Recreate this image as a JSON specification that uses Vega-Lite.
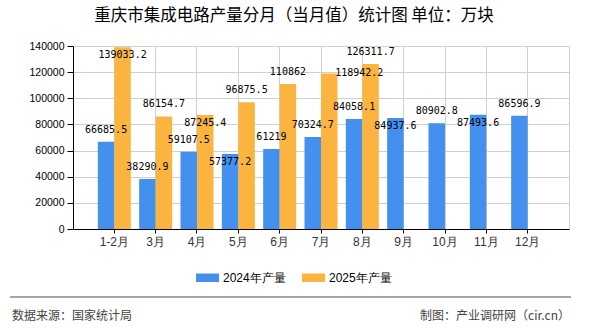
{
  "$schema": "https://vega.github.io/schema/vega-lite/v6.json",
  "width": 496,
  "height": 183,
  "autosize": {"type": "none"},
  "padding": {"left": 73, "top": 46, "right": 21, "bottom": 101},
  "background": "white",
  "title": {
    "text": "重庆市集成电路产量分月（当月值）统计图  单位：万块",
    "font": "Noto Sans CJK SC",
    "fontSize": 16.5,
    "fontWeight": "normal",
    "color": "#000000",
    "anchor": "middle",
    "dx": -27,
    "offset": 17
  },
  "config": {
    "view": {"stroke": "#d0d0d0", "strokeWidth": 1},
    "font": "Liberation Sans"
  },
  "layer": [
    {
      "data": {
        "values": [
          {"month": "1-2月", "year": "2024年产量", "value": 66685.5},
          {"month": "3月", "year": "2024年产量", "value": 38290.9},
          {"month": "4月", "year": "2024年产量", "value": 59107.5},
          {"month": "5月", "year": "2024年产量", "value": 57377.2},
          {"month": "6月", "year": "2024年产量", "value": 61219},
          {"month": "7月", "year": "2024年产量", "value": 70324.7},
          {"month": "8月", "year": "2024年产量", "value": 84058.1},
          {"month": "9月", "year": "2024年产量", "value": 84937.6},
          {"month": "10月", "year": "2024年产量", "value": 80902.8},
          {"month": "11月", "year": "2024年产量", "value": 87493.6},
          {"month": "12月", "year": "2024年产量", "value": 86596.9},
          {"month": "1-2月", "year": "2025年产量", "value": 139033.2},
          {"month": "3月", "year": "2025年产量", "value": 86154.7},
          {"month": "4月", "year": "2025年产量", "value": 87245.4},
          {"month": "5月", "year": "2025年产量", "value": 96875.5},
          {"month": "6月", "year": "2025年产量", "value": 110862},
          {"month": "7月", "year": "2025年产量", "value": 118942.2},
          {"month": "8月", "year": "2025年产量", "value": 126311.7}
        ]
      },
      "encoding": {
        "x": {
          "field": "month",
          "type": "nominal",
          "sort": null,
          "scale": {"paddingInner": 0.2016, "paddingOuter": 0.6008},
          "axis": {
            "title": null,
            "bandPosition": 0.5,
            "grid": true,
            "gridColor": "#d0d0d0",
            "domainColor": "#000000",
            "tickColor": "#000000",
            "tickSize": 4,
            "labelAngle": 0,
            "labelFontSize": 12,
            "labelColor": "#333333",
            "labelPadding": 3,
            "labelFont": "Liberation Sans"
          }
        },
        "xOffset": {"field": "year", "type": "nominal", "sort": ["2024年产量", "2025年产量"], "scale": {"paddingInner": 0, "paddingOuter": 0}},
        "y": {
          "field": "value",
          "type": "quantitative",
          "scale": {"domain": [0, 140000], "nice": false},
          "axis": {
            "title": null,
            "values": [0, 20000, 40000, 60000, 80000, 100000, 120000, 140000],
            "format": "d",
            "grid": true,
            "gridColor": "#d0d0d0",
            "domainColor": "#000000",
            "tickColor": "#000000",
            "tickSize": 6,
            "labelFontSize": 10.5,
            "labelColor": "#000000",
            "labelPadding": 3
          }
        }
      },
      "layer": [
        {
          "mark": {"type": "bar"},
          "encoding": {
            "color": {
              "field": "year",
              "type": "nominal",
              "scale": {"domain": ["2024年产量", "2025年产量"], "range": ["#4390ee", "#fbb43f"]},
              "legend": {
                "orient": "none",
                "legendX": 123,
                "legendY": 220,
                "direction": "horizontal",
                "title": null,
                "symbolType": "M-1,-0.37H1V0.37H-1Z",
                "symbolSize": 529,
                "symbolStrokeWidth": 0,
                "labelFontSize": 12,
                "labelColor": "#000000",
                "labelFont": "Liberation Sans",
                "labelOffset": 4,
                "columnPadding": 16,
                "padding": 0
              }
            }
          }
        },
        {
          "transform": [{"filter": "!((datum.month=='1-2月'&&datum.year=='2025年产量')||(datum.month=='4月'&&datum.year=='2025年产量')||(datum.month=='5月'&&datum.year=='2024年产量')||(datum.month=='9月'&&datum.year=='2024年产量')||(datum.month=='11月'&&datum.year=='2024年产量')||(datum.month=='7月'&&datum.year=='2025年产量'))"}],
          "mark": {"type": "text", "font": "DejaVu Sans Mono", "fontSize": 10, "color": "#000000", "baseline": "middle", "dy": -12},
          "encoding": {"text": {"field": "value", "type": "nominal"}}
        },
        {
          "transform": [{"filter": "(datum.month=='1-2月'&&datum.year=='2025年产量')||(datum.month=='4月'&&datum.year=='2025年产量')||(datum.month=='5月'&&datum.year=='2024年产量')||(datum.month=='9月'&&datum.year=='2024年产量')||(datum.month=='11月'&&datum.year=='2024年产量')"}],
          "mark": {"type": "text", "font": "DejaVu Sans Mono", "fontSize": 10, "color": "#000000", "baseline": "middle", "dy": 8},
          "encoding": {"text": {"field": "value", "type": "nominal"}}
        },
        {
          "transform": [{"filter": "datum.month=='7月'&&datum.year=='2025年产量'"}],
          "mark": {"type": "text", "font": "DejaVu Sans Mono", "fontSize": 10, "color": "#000000", "baseline": "middle", "dx": 30, "dy": -1},
          "encoding": {"text": {"field": "value", "type": "nominal"}}
        }
      ]
    },
    {
      "data": {"values": [{"note": "line"}]},
      "mark": {"type": "rule", "color": "#888888", "strokeWidth": 1.5},
      "encoding": {"x": {"value": -63}, "x2": {"value": 498}, "y": {"value": 251}}
    },
    {
      "data": {"values": [{"note": "数据来源：国家统计局"}]},
      "mark": {"type": "text", "font": "Noto Sans CJK SC", "fontSize": 12, "color": "#444444", "align": "left", "baseline": "middle"},
      "encoding": {"x": {"value": -61}, "y": {"value": 270}, "text": {"field": "note"}}
    },
    {
      "data": {"values": [{"note": "制图：产业调研网（cir.cn）"}]},
      "mark": {"type": "text", "font": "Noto Sans CJK SC", "fontSize": 12, "color": "#444444", "align": "right", "baseline": "middle"},
      "encoding": {"x": {"value": 497}, "y": {"value": 270}, "text": {"field": "note"}}
    }
  ]
}
